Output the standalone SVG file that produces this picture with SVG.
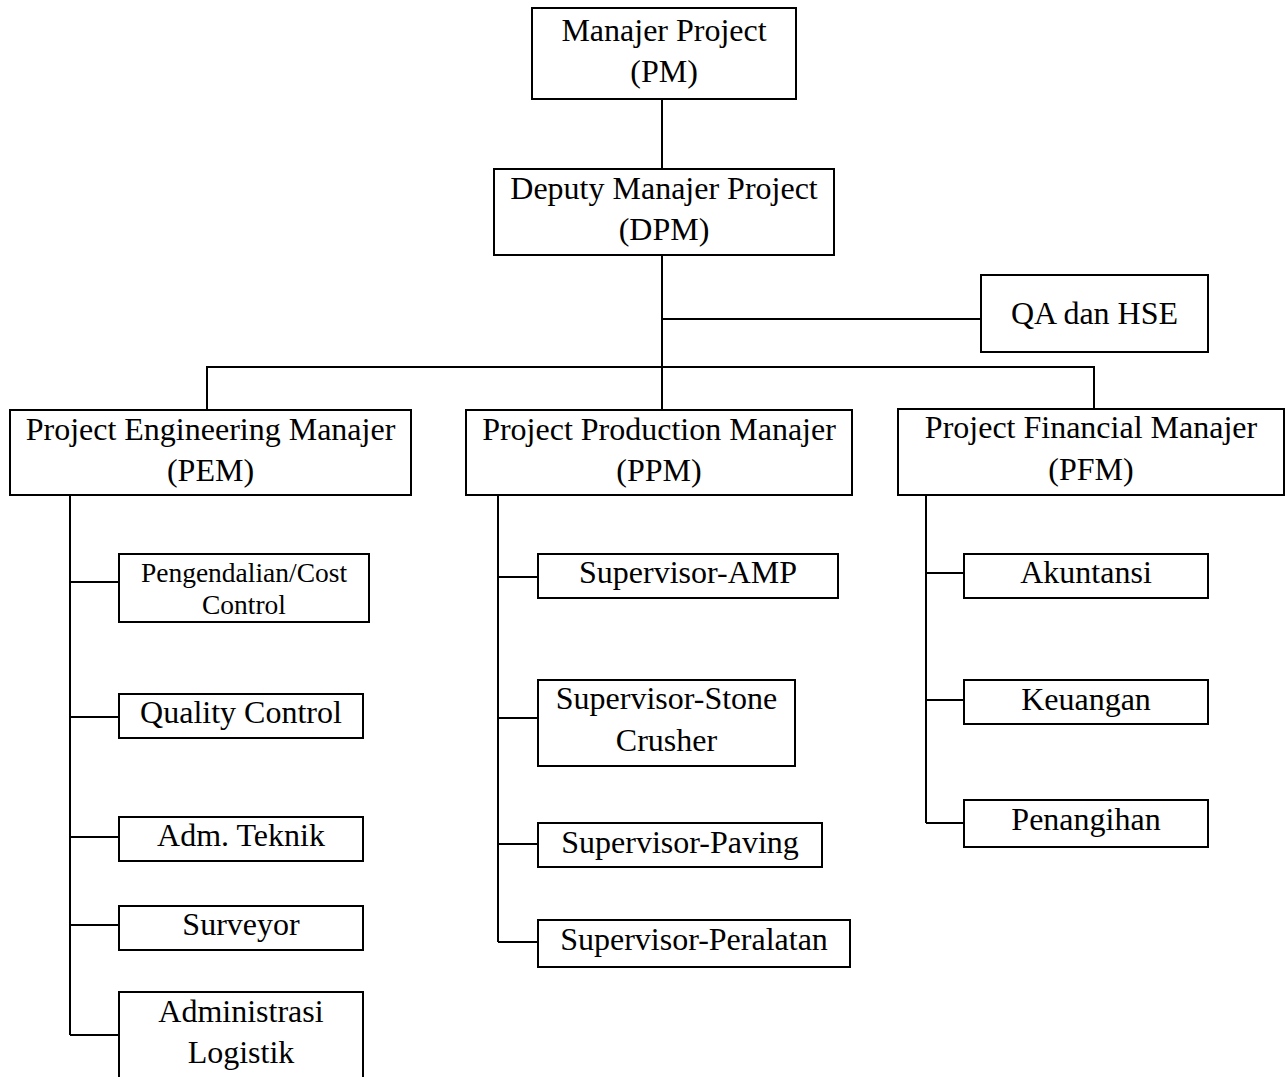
<svg xmlns="http://www.w3.org/2000/svg" width="1286" height="1077" viewBox="0 0 1286 1077">
<style>
rect{fill:#fff;stroke:#000;stroke-width:2}
.c path{fill:none;stroke:#000;stroke-width:2}
text{font-family:"Liberation Serif","Times New Roman",serif;font-size:32px;fill:#000;text-anchor:middle}
.s{font-size:27.5px}
</style>
<rect x="0" y="0" width="1286" height="1077" style="stroke:none"/>
<g class="c" id="connectors">
<path d="M662 99V169"/>
<path d="M662 255V367"/>
<path d="M662 319H981"/>
<path d="M207 410V367H1094V409"/>
<path d="M662 367V410"/>
<path d="M70 495V1035"/>
<path d="M70 582H119M70 717H119M70 837H119M70 925H119M70 1035H119"/>
<path d="M498 495V942"/>
<path d="M498 577H538M498 718H538M498 844H538M498 942H538"/>
<path d="M926 495V823"/>
<path d="M926 573H964M926 700H964M926 823H964"/>
</g>
<g id="pm"><rect x="532" y="8" width="264" height="91"/><text x="664" y="41">Manajer Project</text><text x="664" y="82">(PM)</text></g>
<g id="dpm"><rect x="494" y="169" width="340" height="86"/><text x="664" y="199">Deputy Manajer Project</text><text x="664" y="240">(DPM)</text></g>
<g id="qa"><rect x="981" y="275" width="227" height="77"/><text x="1094.5" y="324">QA dan HSE</text></g>
<g id="pem"><rect x="10" y="410" width="401" height="85"/><text x="210.5" y="440">Project Engineering Manajer</text><text x="210.5" y="481">(PEM)</text></g>
<g id="ppm"><rect x="466" y="410" width="386" height="85"/><text x="659" y="440">Project Production Manajer</text><text x="659" y="481">(PPM)</text></g>
<g id="pfm"><rect x="898" y="409" width="386" height="86"/><text x="1091" y="438">Project Financial Manajer</text><text x="1091" y="480">(PFM)</text></g>
<g id="cost"><rect x="119" y="554" width="250" height="68"/><text class="s" x="244" y="582">Pengendalian/Cost</text><text class="s" x="244" y="614">Control</text></g>
<g id="qc"><rect x="119" y="694" width="244" height="44"/><text x="241" y="723">Quality Control</text></g>
<g id="admtek"><rect x="119" y="817" width="244" height="44"/><text x="241" y="846">Adm. Teknik</text></g>
<g id="surveyor"><rect x="119" y="906" width="244" height="44"/><text x="241" y="935">Surveyor</text></g>
<g id="adminlog"><rect x="119" y="992" width="244" height="110"/><text x="241" y="1022">Administrasi</text><text x="241" y="1063">Logistik</text></g>
<g id="amp"><rect x="538" y="554" width="300" height="44"/><text x="688" y="583">Supervisor-AMP</text></g>
<g id="stone"><rect x="538" y="680" width="257" height="86"/><text x="666.5" y="709">Supervisor-Stone</text><text x="666.5" y="751">Crusher</text></g>
<g id="paving"><rect x="538" y="823" width="284" height="44"/><text x="680" y="853">Supervisor-Paving</text></g>
<g id="peralatan"><rect x="538" y="920" width="312" height="47"/><text x="694" y="950">Supervisor-Peralatan</text></g>
<g id="akuntansi"><rect x="964" y="554" width="244" height="44"/><text x="1086" y="583">Akuntansi</text></g>
<g id="keuangan"><rect x="964" y="680" width="244" height="44"/><text x="1086" y="710">Keuangan</text></g>
<g id="penangihan"><rect x="964" y="800" width="244" height="47"/><text x="1086" y="830">Penangihan</text></g>
</svg>
